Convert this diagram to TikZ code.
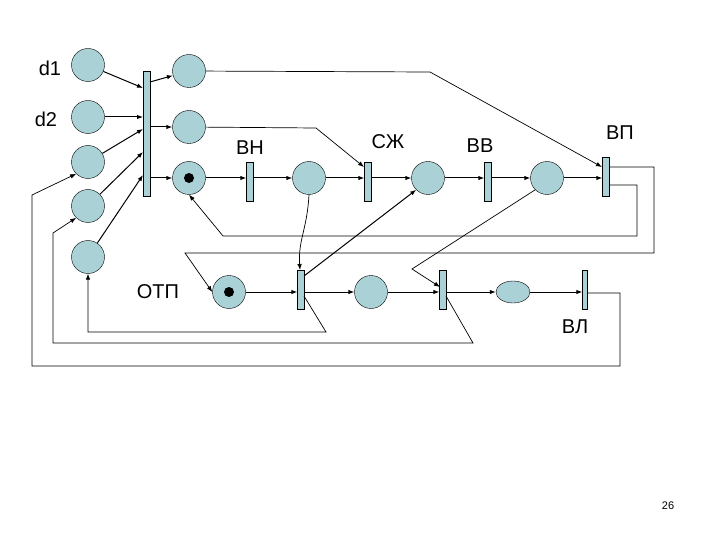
\documentclass[tikz,border=0pt]{standalone}
\usepackage{fontspec}
\setmainfont{Liberation Sans}
\usetikzlibrary{arrows.meta,shapes.geometric}
\definecolor{pfill}{RGB}{170,210,214}
\begin{document}
\begin{tikzpicture}[x=1pt,y=-1pt,
  pl/.style={circle,draw,fill=pfill,minimum size=33pt,inner sep=0pt},
  tr/.style={rectangle,draw,fill=pfill,minimum width=7pt,minimum height=39pt,inner sep=0pt},
  tok/.style={circle,fill=black,minimum size=10pt,inner sep=0pt},
  lab/.style={font=\fontsize{20}{22}\selectfont},
  a/.style={-{Latex[length=6pt,width=4.5pt]},line width=1pt},
  l/.style={line width=0.7pt}]
\useasboundingbox (0,0) rectangle (720,540);
% places
\node[pl] (d1) at (88,65) {};
\node[pl] (d2) at (88,117) {};
\node[pl] (p3) at (88,162) {};
\node[pl] (p4) at (88,206) {};
\node[pl] (p5) at (88,257) {};
\node[pl] (q1) at (189,71) {};
\node[pl] (q2) at (189,127) {};
\node[pl] (q3) at (189,178) {};
\node[tok] (k1) at (189,178) {};
\node[pl] (m1) at (309,178) {};
\node[pl] (m2) at (428,178) {};
\node[pl] (m3) at (547,178) {};
\node[pl] (b0) at (229,292) {};
\node[tok] (k2) at (229,292) {};
\node[pl] (b1) at (371,292) {};
\node[draw,fill=pfill,ellipse,inner sep=0pt,minimum width=34pt,minimum height=22pt] (b2) at (513,292) {};
% transitions
\node[tr,minimum height=125pt] (t0) at (147,134) {};
\node[tr] (tbh) at (250,182) {};
\node[tr] (tsj) at (368,182) {};
\node[tr] (tbb) at (488,182) {};
\node[tr] (tvp) at (606,177) {};
\node[tr] (u1) at (301,290) {};
\node[tr] (u2) at (443,290) {};
\node[tr,minimum width=5pt] (u3) at (585,290) {};
% labels
\node[lab] (ld1) at (50,68) {d1};
\node[lab] (ld2) at (46,119) {d2};
\node[lab] (lbh) at (250,148) {ВН};
\node[lab] (lsj) at (388,142) {СЖ};
\node[lab] (lbb) at (480,146) {ВВ};
\node[lab] (lvp) at (620,133) {ВП};
\node[lab] (lotp) at (158,292) {ОТП};
\node[lab] (lvl) at (575,327) {ВЛ};
\node[font=\fontsize{11}{12}\selectfont] (n26) at (668,506) {26};
% inputs to t0
\draw[a] (d1) -- (143,88);
\draw[a] (d2) -- (143,117);
\draw[a] (p3) -- (143,129);
\draw[a] (p4) -- (143,152);
\draw[a] (p5) -- (143,175);
\draw[a] (150,82) -- (q1);
\draw[a] (150,127) -- (q2);
\draw[a] (150,178) -- (q3);
% main row
\draw[a] (q3) -- (tbh.west |- q3);
\draw[a] (tbh.east |- m1) -- (m1);
\draw[a] (m1) -- (tsj.west |- m1);
\draw[a] (tsj.east |- m2) -- (m2);
\draw[a] (m2) -- (tbb.west |- m2);
\draw[a] (tbb.east |- m3) -- (m3);
\draw[a] (m3) -- (tvp.west |- m3);
% bottom row
\draw[a] (b0) -- (u1.west |- b0);
\draw[a] (u1.east |- b1) -- (b1);
\draw[a] (b1) -- (u2.west |- b1);
\draw[a] (u2.east |- b2) -- (b2);
\draw[a] (b2) -- (u3.west |- b2);
% long connectors
\draw[l,-{Latex[length=6pt,width=4.5pt]}] (q1) -- (430,72) -- (602,167);
\draw[l,-{Latex[length=6pt,width=4.5pt]}] (q2) -- (316,128) -- (364,167);
\draw[l,-{Latex[length=6pt,width=4.5pt]}] (m1.south) .. controls (307,230) and (298,240) .. (300,270);
\draw[a] (304,276) -- (m2.south west);
\draw[l,-{Latex[length=6pt,width=4.5pt]}] (m3.south west) -- (412,269) -- (440,287);
\draw[l,-{Latex[length=6pt,width=4.5pt]}] (tvp.east |- 0,185) -- (637,185) -- (637,236) -- (223,236) -- (q3.south);
\draw[l,-{Latex[length=6pt,width=4.5pt]}] (tvp.east |- 0,167) -- (654,167) -- (654,253) -- (185,253) -- (b0.west);
\draw[l,-{Latex[length=6pt,width=4.5pt]}] (304,296) -- (326,332) -- (88,332) -- (p5.south);
\draw[l,-{Latex[length=6pt,width=4.5pt]}] (446,296) -- (473,343) -- (53,343) -- (53,233) -- (p4.south west);
\draw[l,-{Latex[length=6pt,width=4.5pt]}] (u3.east |- 0,293) -- (620,293) -- (620,366) -- (32,366) -- (32,195) -- (p3.south west);
\end{tikzpicture}
\end{document}
